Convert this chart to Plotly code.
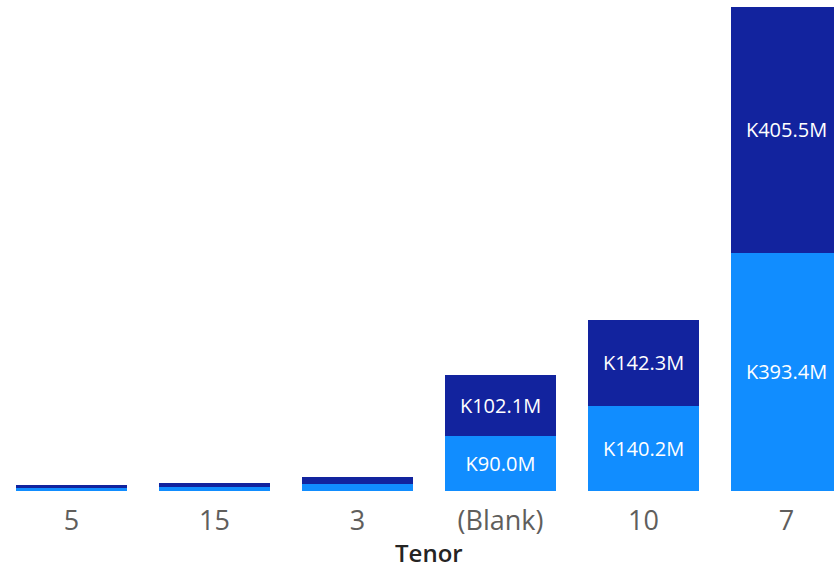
import plotly.graph_objects as go

categories = ["5", "15", "3", "(Blank)", "10", "7"]
series_light = [5.0, 6.5, 11.5, 90.0, 140.2, 393.4]
series_dark = [5.0, 6.5, 11.5, 102.1, 142.3, 405.5]
light_color = "#118DFF"
dark_color = "#12239E"


def labels(vals):
    return [f"K{v:.1f}M" if v > 50 else "" for v in vals]


fig = go.Figure()
for vals, col in [(series_light, light_color), (series_dark, dark_color)]:
    fig.add_trace(go.Bar(
        x=categories, y=vals, marker=dict(color=col, line=dict(width=0)),
        text=labels(vals), textposition="inside", insidetextanchor="middle",
        textfont=dict(color="white", size=20, family="Open Sans"),
        constraintext="none", cliponaxis=False, hoverinfo="skip",
    ))

total_max = max(a + b for a, b in zip(series_light, series_dark))
fig.update_layout(
    barmode="stack", bargap=0.22, showlegend=False,
    width=834, height=569,
    margin=dict(l=0, r=0, t=7, b=78),
    paper_bgcolor="white", plot_bgcolor="white",
    xaxis=dict(
        range=[-0.5, 5.5 - 24 / 143], showgrid=False, zeroline=False, showline=False,
        tickfont=dict(size=27, color="#605E5C", family="Open Sans"),
        ticks="outside", ticklen=6, tickcolor="rgba(0,0,0,0)",
    ),
    yaxis=dict(range=[0, total_max], visible=False, showgrid=False, zeroline=False),
    annotations=[dict(
        text="Tenor", xref="paper", yref="paper", x=0.5144, y=-0.128,
        xanchor="center", yanchor="middle", showarrow=False,
        font=dict(size=24, color="#252423", family="Open Sans", weight=600),
    )],
)
fig.write_html("out.html", config={"displayModeBar": False},
               post_script="document.body.style.margin='0';")
